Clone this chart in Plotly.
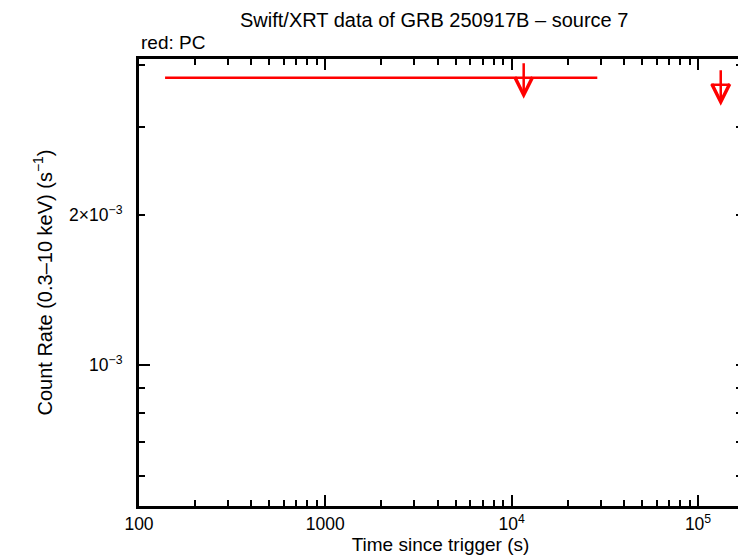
import numpy as np
import plotly.graph_objects as go

# PC mode upper limits (time in s since trigger, count rate in s^-1)
t_mid = [11600, 132400]
t_lo = [138, 117500]
t_hi = [28800, 148500]
rate_ul = [3.77e-3, 3.65e-3]

x_major = [100, 1000, 1e4, 1e5]
x_major_text = ["100", "1000", "10<sup>4</sup>", "10<sup>5</sup>"]
x_minor = [m * d for d in [100, 1000, 1e4, 1e5] for m in range(2, 10)]
y_major = [1e-3, 2e-3]
y_major_text = ["10<sup>−3</sup>", "2×10<sup>−3</sup>"]
y_minor = [5e-4, 6e-4, 7e-4, 8e-4, 9e-4, 3e-3, 4e-3]

font = "Liberation Sans, Arial, sans-serif"

fig = go.Figure()
fig.add_trace(go.Scatter(
    x=t_mid, y=rate_ul, mode="markers",
    marker=dict(size=0.1, color="red"),
    error_x=dict(type="data", symmetric=False,
                 array=[h - m for h, m in zip(t_hi, t_mid)],
                 arrayminus=[m - l for l, m in zip(t_lo, t_mid)],
                 color="red", thickness=2.5, width=0),
    showlegend=False,
))

# upper-limit arrows
for t, r in zip(t_mid, rate_ul):
    fig.add_annotation(
        x=np.log10(t), y=np.log10(r), xref="x", yref="y",
        showarrow=True, ax=0, ay=-37, axref="pixel", ayref="pixel",
        yshift=-21, arrowhead=5, arrowsize=1.4, arrowwidth=2.5,
        arrowcolor="red", text="",
    )

fig.add_annotation(text="Swift/XRT data of GRB 250917B – source 7",
                   xref="paper", yref="paper", x=0.49, y=1, yshift=39,
                   yanchor="middle", showarrow=False,
                   font=dict(size=20, color="black"))
fig.add_annotation(text="red: PC", xref="paper", yref="paper", x=0, y=1,
                   xanchor="left", yanchor="middle", yshift=17, showarrow=False,
                   font=dict(size=19, color="black"))

axis_common = dict(type="log", showline=True, linecolor="black", linewidth=3,
                   mirror="ticks", ticks="inside", tickwidth=2, tickcolor="black",
                   showgrid=False, zeroline=False, tickmode="array",
                   automargin=False, tickfont=dict(size=17.5, color="black"))

fig.update_layout(
    width=738, height=550,
    margin=dict(l=131, r=4, t=51, b=52, autoexpand=False),
    paper_bgcolor="white", plot_bgcolor="white",
    font=dict(family=font, size=17, color="black"),
    xaxis=dict(axis_common, range=[2, 5.236], tickvals=x_major,
               ticktext=x_major_text, ticklen=11,
               minor=dict(tickvals=x_minor, ticks="inside", ticklen=6,
                          tickwidth=2, tickcolor="black"),
               title=dict(text="Time since trigger (s)", standoff=2,
                          font=dict(size=19))),
    yaxis=dict(axis_common, range=[-3.283, -2.386], tickvals=y_major,
               ticktext=y_major_text, ticklen=6, ticklabelstandoff=10,
               minor=dict(tickvals=y_minor, ticks="inside", ticklen=6,
                          tickwidth=2, tickcolor="black"),
               title=dict(text="Count Rate (0.3–10 keV) (s<sup>−1</sup>)",
                          standoff=12, font=dict(size=20))),
    yaxis2=dict(type="log", overlaying="y", range=[-3.283, -2.386],
                tickmode="array", tickvals=[1e-3], ticks="inside", ticklen=11,
                tickwidth=2, tickcolor="black", showticklabels=False,
                showgrid=False, showline=False, zeroline=False,
                automargin=False),
)
fig.add_trace(go.Scatter(x=[t_mid[0]], y=[rate_ul[0]], yaxis="y2", mode="markers",
                         marker=dict(size=0.1, color="rgba(0,0,0,0)"),
                         showlegend=False, hoverinfo="skip"))

fig.write_html("out.html")
